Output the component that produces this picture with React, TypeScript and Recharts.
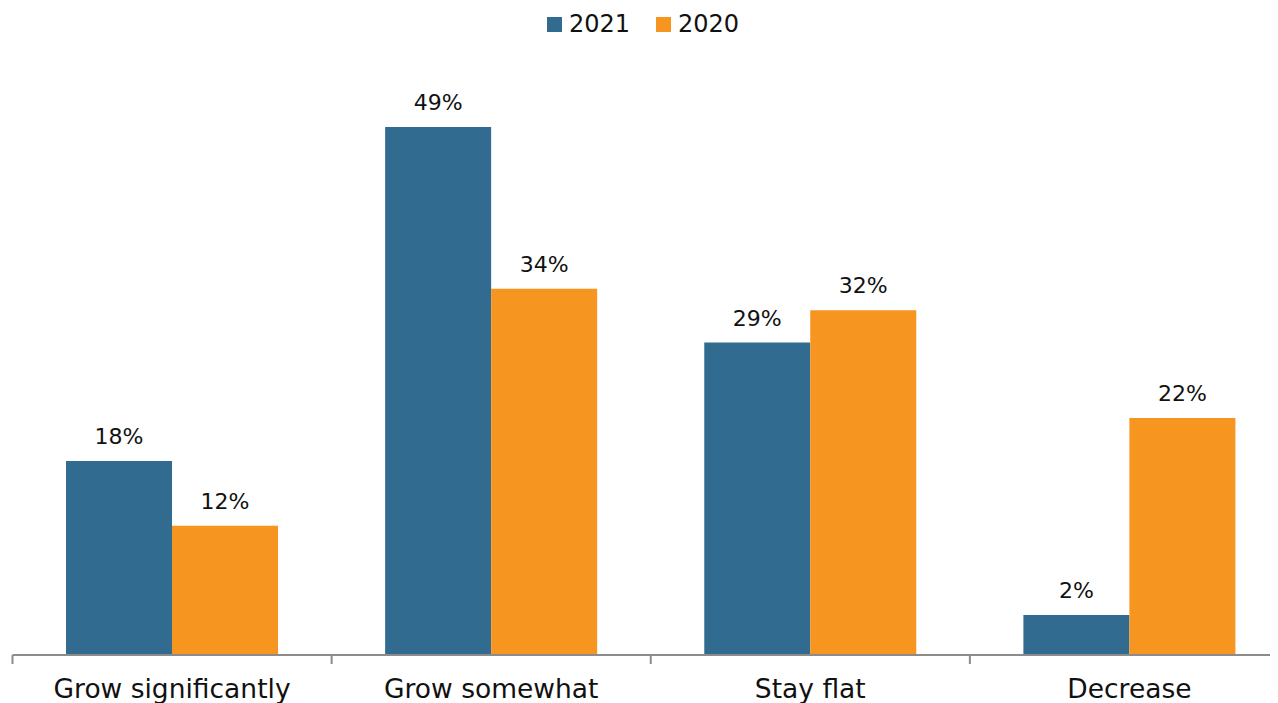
import React from 'react';
import { BarChart, Bar, XAxis, YAxis, Legend, LabelList } from 'recharts';

const categories = ['Grow significantly', 'Grow somewhat', 'Stay flat', 'Decrease'];
const values2021 = [18, 49, 29, 2];
const values2020 = [12, 34, 32, 22];

const BLUE = '#316b8f';
const ORANGE = '#f6951f';
const FONT = '"DejaVu Sans", sans-serif';
const AXIS_GREY = '#8c8c8c';
const TICK_MARGIN = 24;

const data = categories.map((name, i) => ({
  name,
  y2021: values2021[i],
  y2020: values2020[i],
}));

const legendItems = [
  { label: '2021', color: BLUE },
  { label: '2020', color: ORANGE },
];

function LegendBox() {
  return (
    <div style={{ display: 'flex', justifyContent: 'center', gap: 26, fontFamily: FONT, fontSize: 24, lineHeight: '30px', color: '#111' }}>
      {legendItems.map((it) => (
        <div key={it.label} style={{ display: 'flex', alignItems: 'center', gap: 7 }}>
          <span style={{ width: 15, height: 15, background: it.color, display: 'inline-block' }} />
          <span>{it.label}</span>
        </div>
      ))}
    </div>
  );
}

// label plus a tick mark on the left edge of each category band
function CategoryTick(props: any) {
  const { x, y, payload } = props;
  const axisY = y - TICK_MARGIN;
  const edge = x - (payload.offset || 0);
  return (
    <g>
      <line x1={edge} x2={edge} y1={axisY} y2={axisY + 9} stroke={AXIS_GREY} strokeWidth={2} />
      <text x={x} y={y} dy="0.71em" textAnchor="middle" fill="#111" fontSize={26.5} fontFamily={FONT}>
        {payload.value}
      </text>
    </g>
  );
}

const pct = (v: number) => `${v}%`;
const labelStyle = { fill: '#111', fontSize: 22, fontFamily: FONT };

export default function App() {
  return (
    <div style={{ width: 1270, height: 695, overflow: 'hidden', position: 'relative' }}>
      <BarChart
        width={1281}
        height={695}
        data={data}
        margin={{ top: 0.5, right: 0, bottom: 8, left: 4.5 }}
        barCategoryGap="16.77%"
        barGap={0}
      >
        <XAxis
          dataKey="name"
          height={40}
          interval={0}
          tickLine={false}
          tickSize={0}
          tickMargin={TICK_MARGIN}
          axisLine={{ stroke: AXIS_GREY, strokeWidth: 2 }}
          tick={<CategoryTick />}
        />
        <YAxis hide domain={[0, 60]} />
        <Legend
          verticalAlign="middle"
          align="center"
          layout="horizontal"
          wrapperStyle={{ top: 1, left: 0, width: 1270 }}
          content={() => <LegendBox />}
        />
        <Bar dataKey="y2021" name="2021" fill={BLUE} minPointSize={40} isAnimationActive={false}>
          <LabelList dataKey="y2021" position="top" offset={17} formatter={pct} style={labelStyle} />
        </Bar>
        <Bar dataKey="y2020" name="2020" fill={ORANGE} minPointSize={40} isAnimationActive={false}>
          <LabelList dataKey="y2020" position="top" offset={17} formatter={pct} style={labelStyle} />
        </Bar>
      </BarChart>
    </div>
  );
}
